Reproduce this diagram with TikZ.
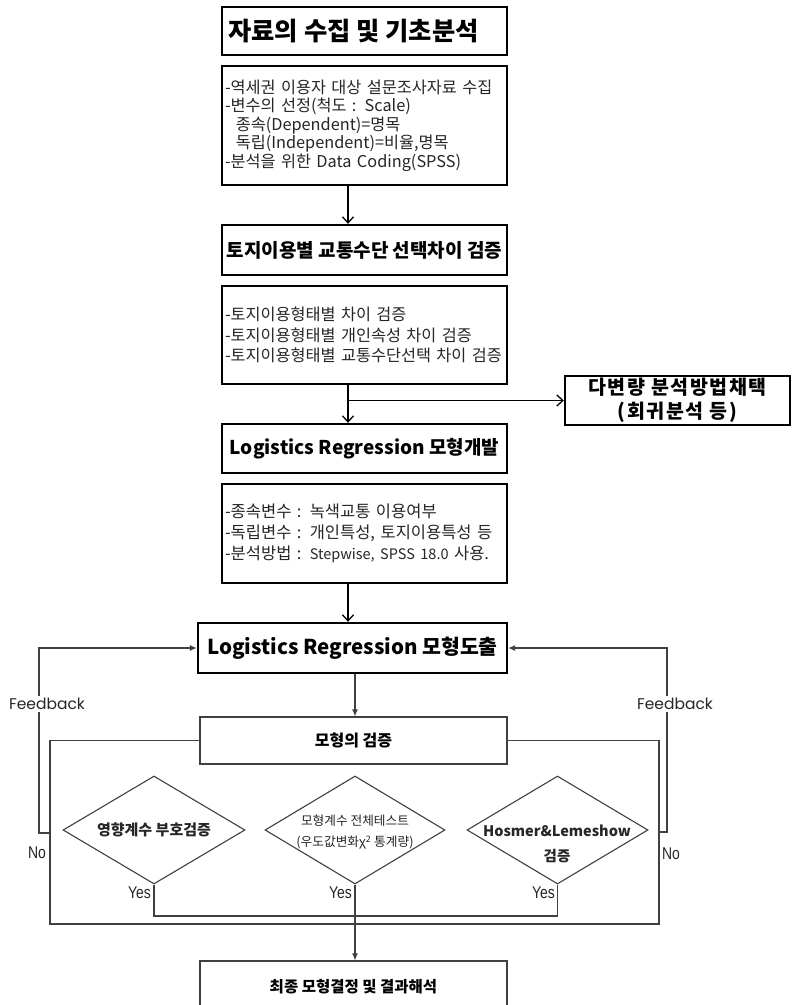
\documentclass[tikz,border=0pt]{standalone}
\usepackage{fontspec}
\setmainfont{Noto Sans CJK KR}
\newfontfamily\fbfont{Poppins}
\newfontfamily\ynfont[FakeStretch=0.82]{Liberation Sans}
\usetikzlibrary{arrows.meta,shapes.geometric,calc}
\begin{document}
\begin{tikzpicture}[x=1pt,y=-1pt,
  thickbox/.style={draw, line width=2.4pt, inner sep=0pt, text=black},
  thinbox/.style={draw=black!75, line width=1.2pt, inner sep=0pt, text=black},
  content/.style={align=left, inner xsep=3pt, inner ysep=0pt, text=black!85,
    font=\fontsize{16.3}{18.5}\selectfont},
  dia/.style={diamond, draw=black!75, line width=1.1pt, inner sep=0pt},
  varrow/.style={line width=1.3pt, -{Straight Barb[length=6pt,width=11pt]}},
  tri/.style={draw=black!75, line width=1.1pt, -{Latex[length=7pt,width=6pt]}},
  thinline/.style={draw=black!75, line width=1.1pt},
  fb/.style={font=\fbfont\fontsize{15.5}{18}\selectfont, text=black!85, inner sep=2pt},
  yn/.style={font=\ynfont\fontsize{17}{20}\selectfont, text=black!85, inner sep=0pt}
]
\useasboundingbox (0,0) rectangle (793,1005);
\fill[white] (0,0) rectangle (793,1005);

% top boxes
\node[thickbox, minimum width=285pt, minimum height=48pt,
  font=\bfseries\fontsize{25.3}{28}\selectfont] (b1) at (364.5,31) {자료의 수집 및 기초분석\hspace*{22pt}};
\node[thickbox, content, minimum width=285pt, minimum height=119pt, text width=279pt] (b2) at (364.5,125.5)
  {-역세권 이용자 대상 설문조사자료 수집\\
   -변수의 선정(척도 : Scale)\\
   \ \ 종속(Dependent)=명목\\
   \ \ 독립(Independent)=비율,명목\\
   -분석을 위한 Data Coding(SPSS)};
\node[thickbox, minimum width=285pt, minimum height=50pt,
  font=\bfseries\fontsize{19}{22}\selectfont] (b3) at (364.5,250) {토지이용별 교통수단 선택차이 검증};
\node[thickbox, content, minimum width=285pt, minimum height=98pt, text width=279pt,
  font=\fontsize{16.3}{20.5}\selectfont] (b4) at (364.5,335)
  {-토지이용형태별 차이 검증\\
   -토지이용형태별 개인속성 차이 검증\\
   -토지이용형태별 교통수단선택 차이 검증};
\node[thickbox, minimum width=285pt, minimum height=49pt,
  font=\bfseries\fontsize{19}{22}\selectfont] (b5) at (364.5,448.5) {Logistics Regression 모형개발};
\node[thickbox, minimum width=225pt, minimum height=49pt, align=center,
  font=\bfseries\fontsize{19.5}{23.5}\selectfont\addfontfeature{LetterSpace=8}] (b6) at (677.5,400.5) {다변량 분석방법채택\\(회귀분석 등)};
\node[thickbox, content, minimum width=285pt, minimum height=99pt, text width=279pt,
  font=\fontsize{16.5}{21}\selectfont] (b7) at (364.5,533.5)
  {-종속변수 : 녹색교통 이용여부\\
   -독립변수 : 개인특성, 토지이용특성 등\\
   -분석방법 : {\fontsize{14.5}{21}\selectfont Stepwise, SPSS 18.0} 사용.};
\node[thickbox, minimum width=309pt, minimum height=50pt,
  font=\bfseries\fontsize{20.5}{23}\selectfont] (b8) at (352.5,648) {Logistics Regression 모형도출};
\node[thinbox, fill=white, minimum width=307pt, minimum height=47pt,
  font=\bfseries\fontsize{16}{19}\selectfont] (b9) at (353.5,740.5) {모형의 검증};
\node[thinbox, minimum width=307pt, minimum height=51pt,
  font=\bfseries\fontsize{15.5}{19}\selectfont] (b10) at (353.5,986.5) {최종 모형결정 및 결과해석};

% diamonds
\node[dia, minimum width=182pt, minimum height=108pt] (d1) at (154,830) {};
\node[dia, minimum width=180pt, minimum height=108pt] (d2) at (355,830) {};
\node[dia, minimum width=181pt, minimum height=108pt] (d3) at (557.5,830) {};
\node[font=\bfseries\fontsize{15}{17}\selectfont, text=black!85, inner sep=0pt] (d1t) at (d1) {영향계수 부호검증};
\node[font=\fontsize{12.7}{21}\selectfont, text=black!85, align=center, inner sep=0pt] (d2t) at (355,832)
  {모형계수 전체테스트\\(우도값변화χ\textsuperscript{2} 통계량)};
\node[font=\bfseries\fontsize{14.5}{25}\selectfont, text=black!85, align=center, inner sep=0pt] (d3t) at (557,844)
  {Hosmer\&Lemeshow\\검증};

% spine coordinates
\coordinate (sp) at (348,0);
\coordinate (sq) at (355,0);

% top arrows
\draw[varrow] (sp |- b2.south) -- (sp |- b3.north);
\draw[varrow] (sp |- b4.south) -- (sp |- b5.north);
\coordinate (br) at (sp |- b6.west);
\draw[varrow] (br) -- (b6.west);
\draw[varrow] (sp |- b7.south) -- (sp |- b8.north);
\draw[tri] (sq |- b8.south) -- (sq |- b9.north);

% verification loop
\coordinate (lpBL) at (50,924);
\coordinate (lpBR) at (659,924);
\draw[thinline] (b9.west) -| (lpBL) -- (lpBR) |- (b9.east);

% yes paths
\coordinate (yl) at (0,916);
\draw[thinline] (d1.south) -- (d1.south |- yl) -- (d3.south |- yl) -- (d3.south);
\draw[tri] (d2.south) -- (d2.south |- b10.north);

% feedback left
\node[fb] (fbl) at (47,704) {Feedback};
\coordinate (fl) at (39,0);
\draw[thinline] (50,833) -- (fl |- 0,833) -- (fl |- fbl.south);
\draw[tri] (fl |- fbl.north) -- (fl |- b8.west) -- (b8.west);
% feedback right
\node[fb] (fbr) at (675,704) {Feedback};
\coordinate (fr) at (667,0);
\draw[thinline] (659,832) -- (fr |- 0,832) -- (fr |- fbr.south);
\draw[tri] (fr |- fbr.north) -- (fr |- b8.east) -- (b8.east);

% labels
\node[yn, anchor=east] (y1) at (151,893) {Yes};
\node[yn, anchor=east] (y2) at (352,893) {Yes};
\node[yn, anchor=east] (y3) at (555,893) {Yes};
\node[yn] (n1) at (37,853) {No};
\node[yn] (n2) at (671,854) {No};
\end{tikzpicture}
\end{document}
